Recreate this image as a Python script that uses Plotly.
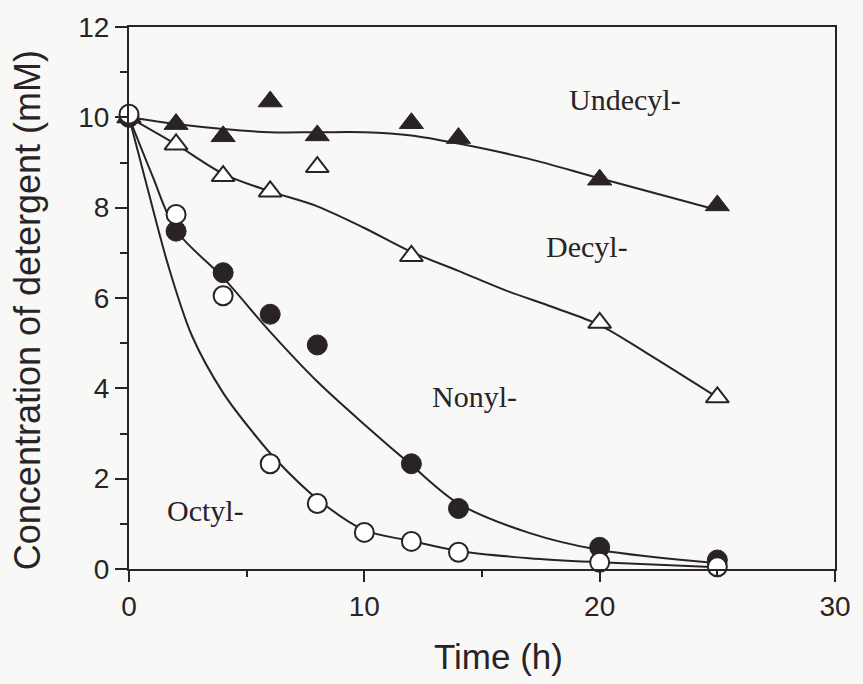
import plotly.graph_objects as go

# Measured data points
time_pts = [0, 2, 4, 6, 8, 12, 14, 20, 25]
undecyl = [10.0, 9.85, 9.58, 10.35, 9.6, 9.87, 9.54, 8.62, 8.05]
decyl_t = [0, 2, 4, 6, 8, 12, 20, 25]
decyl = [10.0, 9.4, 8.7, 8.36, 8.9, 6.93, 5.45, 3.8]
nonyl_t = [0, 2, 4, 6, 8, 12, 14, 20, 25]
nonyl = [10.0, 7.48, 6.56, 5.64, 4.96, 2.33, 1.34, 0.48, 0.2]
octyl_t = [0, 2, 4, 6, 8, 10, 12, 14, 20, 25]
octyl = [10.07, 7.85, 6.05, 2.33, 1.45, 0.81, 0.61, 0.37, 0.15, 0.05]

# Fitted curves
undecyl_curve_t = [0, 2, 4, 6, 8, 10, 12, 14, 17, 20, 25]
undecyl_curve = [10.0, 9.85, 9.74, 9.67, 9.67, 9.67, 9.6, 9.42, 9.08, 8.65, 7.95]
decyl_curve_t = [0, 2, 4, 6, 8, 10, 12, 14, 16, 18, 20, 22, 25]
decyl_curve = [10.0, 9.4, 8.75, 8.36, 8.03, 7.55, 7.02, 6.6, 6.17, 5.8, 5.4, 4.78, 3.8]
nonyl_curve_t = [0, 1, 2, 4, 6, 8, 10, 12, 14, 17, 20, 25]
nonyl_curve = [10.0, 8.7, 7.5, 6.45, 5.25, 4.15, 3.2, 2.3, 1.45, 0.8, 0.42, 0.13]
octyl_curve_t = [0, 0.8, 1.65, 2.67, 4, 5.3, 6.3, 8, 10, 12, 14, 17, 20, 25]
octyl_curve = [10.0, 8.4, 6.75, 5.17, 3.9, 3.0, 2.39, 1.55, 0.86, 0.62, 0.4, 0.24, 0.15, 0.04]

labels = ["Undecyl-", "Decyl-", "Nonyl-", "Octyl-"]
label_x = [21.06, 19.45, 14.7, 3.26]
label_y = [10.39, 7.13, 3.82, 1.29]

x_ticks = [0, 10, 20, 30]
y_ticks = [0, 2, 4, 6, 8, 10, 12]

ink = "#2a2326"
bg = "#f8f8f7"

fig = go.Figure()

for ct, cv in [(undecyl_curve_t, undecyl_curve), (decyl_curve_t, decyl_curve),
               (nonyl_curve_t, nonyl_curve), (octyl_curve_t, octyl_curve)]:
    fig.add_trace(go.Scatter(x=ct, y=cv, mode="lines",
                             line=dict(color=ink, width=2, shape="spline", smoothing=0.9),
                             hoverinfo="skip", showlegend=False, cliponaxis=False))

fig.add_trace(go.Scatter(x=time_pts, y=undecyl, mode="markers",
                         marker=dict(symbol="triangle-up", size=21, color=ink,
                                     line=dict(color=ink, width=1)),
                         showlegend=False, cliponaxis=False))
fig.add_trace(go.Scatter(x=decyl_t, y=decyl, mode="markers",
                         marker=dict(symbol="triangle-up", size=20, color="white",
                                     line=dict(color=ink, width=2)),
                         showlegend=False, cliponaxis=False))
fig.add_trace(go.Scatter(x=nonyl_t, y=nonyl, mode="markers",
                         marker=dict(symbol="circle", size=20, color=ink,
                                     line=dict(color=ink, width=1)),
                         showlegend=False, cliponaxis=False))
fig.add_trace(go.Scatter(x=octyl_t, y=octyl, mode="markers",
                         marker=dict(symbol="circle", size=19, color="white",
                                     line=dict(color=ink, width=2)),
                         showlegend=False, cliponaxis=False))

for t, lx, ly in zip(labels, label_x, label_y):
    fig.add_annotation(x=lx, y=ly, text=t, showarrow=False, xanchor="center", yanchor="middle",
                       font=dict(family="Liberation Serif, Times New Roman, serif", size=30, color=ink))

fig.add_annotation(xref="paper", yref="paper", x=0.524, y=-0.161, text="Time (h)", showarrow=False,
                   xanchor="center", yanchor="middle",
                   font=dict(family="Liberation Sans, Arial, sans-serif", size=35, color=ink))
fig.add_annotation(xref="paper", yref="paper", x=-0.1427, y=0.478, text="Concentration of detergent (mM)",
                   showarrow=False, textangle=-90, xanchor="center", yanchor="middle",
                   font=dict(family="Liberation Sans, Arial, sans-serif", size=36, color=ink))

axis_font = dict(family="Liberation Sans, Arial, sans-serif", size=28, color=ink)
fig.update_xaxes(range=[0, 30], tickmode="array", tickvals=x_ticks, ticktext=[str(v) for v in x_ticks],
                 ticks="outside", ticklen=11, tickwidth=2, tickcolor=ink,
                 minor=dict(tickmode="array", tickvals=[5, 15, 25], ticks="outside", ticklen=6,
                            tickwidth=2, tickcolor=ink),
                 showline=True, linewidth=2, linecolor=ink, mirror=True,
                 showgrid=False, zeroline=False, tickfont=axis_font)
fig.update_yaxes(range=[0, 12], tickmode="array", tickvals=y_ticks, ticktext=[str(v) for v in y_ticks],
                 ticks="outside", ticklen=12, tickwidth=2, tickcolor=ink,
                 minor=dict(tickmode="array", tickvals=[1, 3, 5, 7, 9, 11], ticks="outside", ticklen=7,
                            tickwidth=2, tickcolor=ink),
                 showline=True, linewidth=2, linecolor=ink, mirror=True,
                 showgrid=False, zeroline=False, tickfont=axis_font)

fig.update_layout(width=863, height=684, margin=dict(l=129, r=26, t=22, b=115),
                  paper_bgcolor=bg, plot_bgcolor=bg)

fig.write_html("out.html")
